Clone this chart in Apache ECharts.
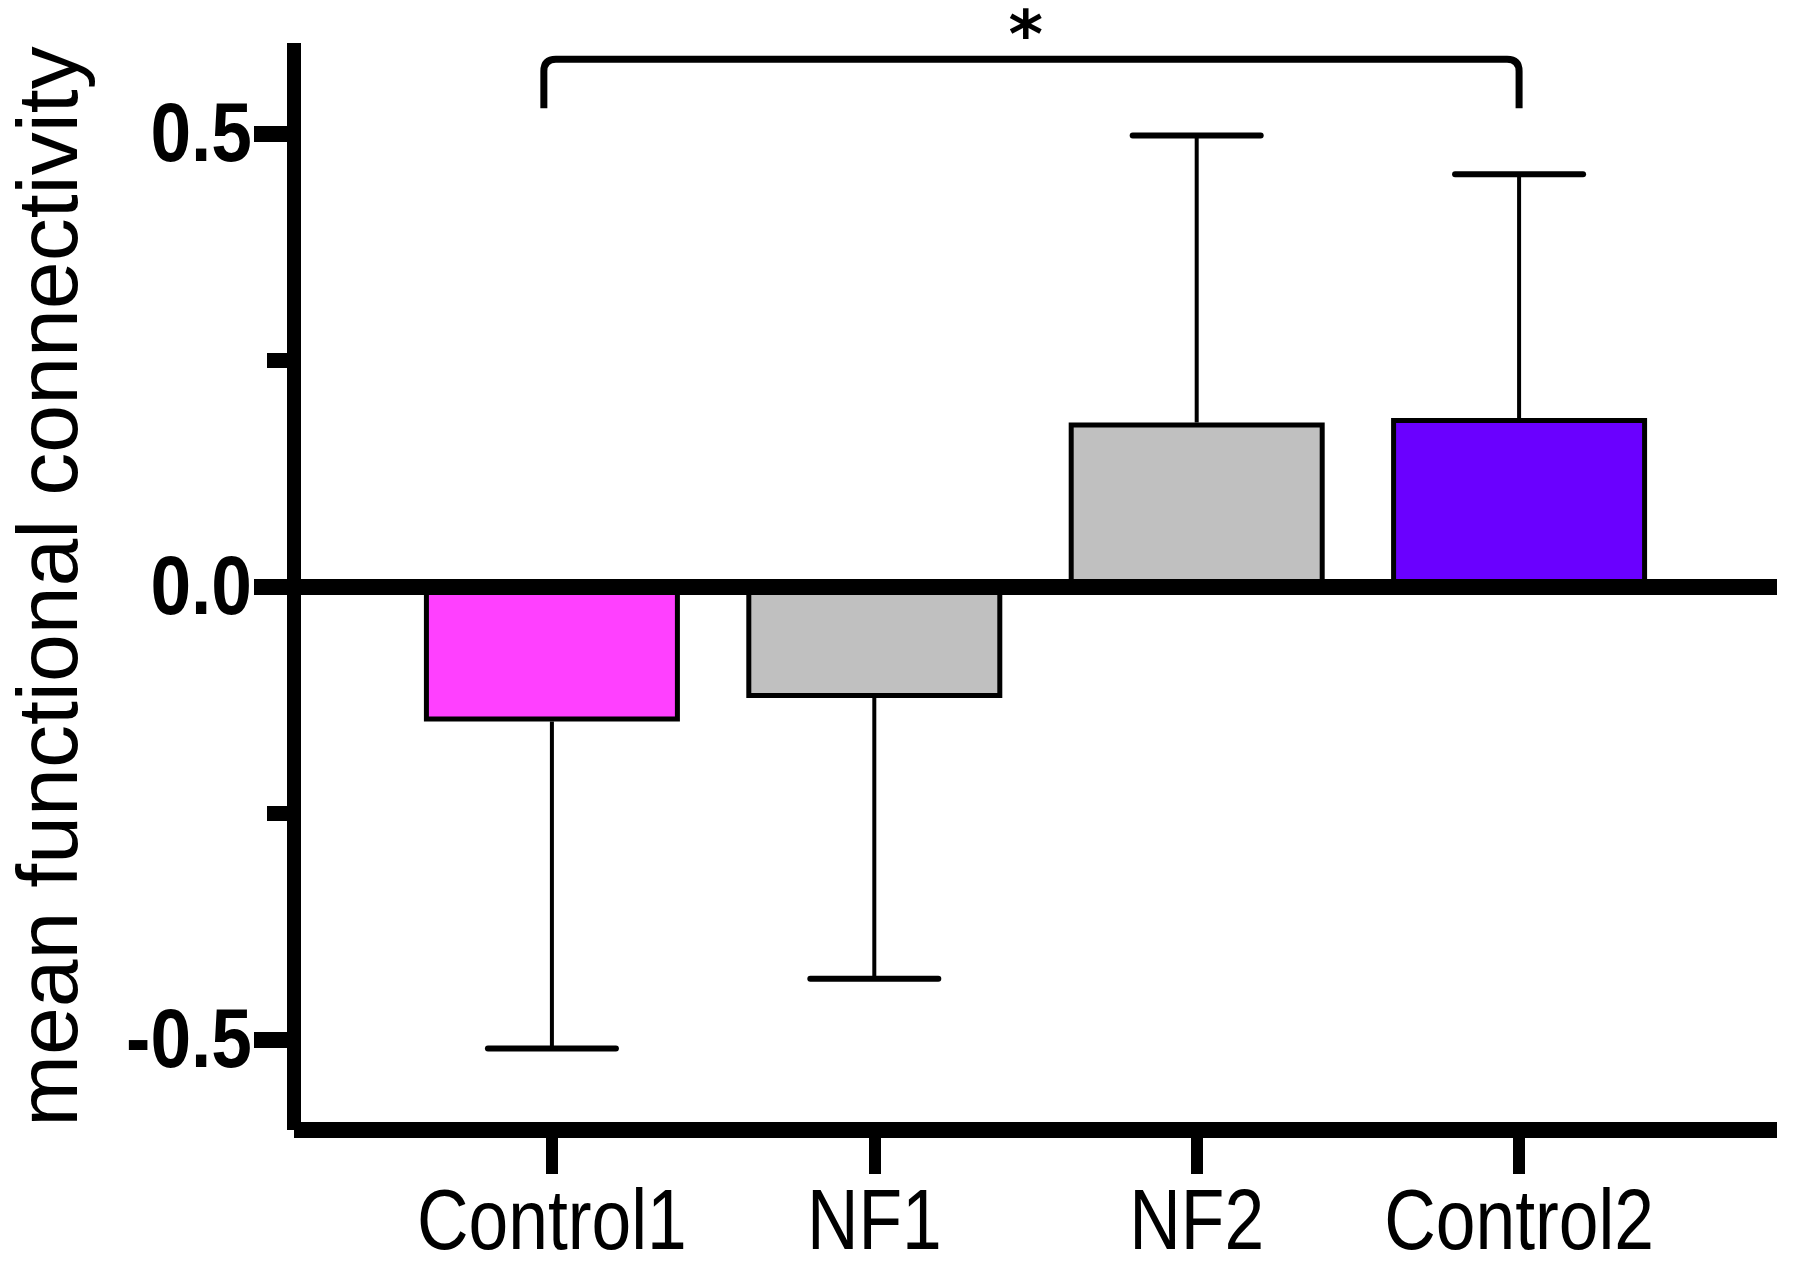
<!DOCTYPE html>
<html>
<head>
<meta charset="utf-8">
<script src="https://cdn.jsdelivr.net/npm/echarts@6/dist/echarts.min.js"></script>
<style>
  html, body { margin: 0; padding: 0; background: #fff; }
  #main { width: 1794px; height: 1266px; }
</style>
</head>
<body>
<div id="main"></div>
<script>
// groups and their positions on the x axis
var groups = ['Control1', 'NF1', 'NF2', 'Control2'];
var positions = [1, 2, 3, 4];
// bar heights (mean) and end of the one-sided error bar
var means = [-0.149, -0.123, 0.181, 0.186];
var errorEnds = [-0.51, -0.433, 0.498, 0.455];
var barColors = ['#ff40ff', '#c0c0c0', '#c0c0c0', '#6a00ff'];
// y ticks
var yMajorTicks = [-0.5, 0, 0.5];
var yMinorTicks = [-0.25, 0.25];
var yTickLabels = ['-0.5', '0.0', '0.5'];
// significance bracket between Control1 and Control2
var bracket = [[0.975, 4.0, 0.582, 0.528]];
var star = [[2.47, 0.603, '*']];

var X_MIN = 0.2, X_MAX = 4.8, Y_MIN = -0.6, Y_MAX = 0.6;
var NARROW = 0.83;  // the figure uses a condensed face, no narrow font here

var chart = echarts.init(document.getElementById('main'));

function barData() {
  return positions.map(function (p, i) {
    return { value: [p, means[i]], itemStyle: { color: barColors[i] } };
  });
}

function errorData() {
  return positions.map(function (p, i) {
    return [p, means[i], errorEnds[i]];
  });
}

function renderError(params, api) {
  var x = api.value(0);
  var p0 = api.coord([x, api.value(1)]);
  var p1 = api.coord([x, api.value(2)]);
  return {
    type: 'group',
    children: [
      { type: 'line', shape: { x1: p0[0], y1: p0[1], x2: p1[0], y2: p1[1] },
        style: { stroke: '#000', lineWidth: 4 } },
      { type: 'line', shape: { x1: p1[0] - 64, y1: p1[1], x2: p1[0] + 64, y2: p1[1] },
        style: { stroke: '#000', lineWidth: 6, lineCap: 'round' } }
    ]
  };
}

function renderBracket(params, api) {
  var a = api.coord([api.value(0), api.value(2)]);
  var b = api.coord([api.value(1), api.value(2)]);
  var legY = api.coord([api.value(0), api.value(3)])[1];
  var r = 12;
  var d = 'M' + a[0] + ',' + legY +
    ' L' + a[0] + ',' + (a[1] + r) +
    ' Q' + a[0] + ',' + a[1] + ' ' + (a[0] + r) + ',' + a[1] +
    ' L' + (b[0] - r) + ',' + b[1] +
    ' Q' + b[0] + ',' + b[1] + ' ' + b[0] + ',' + (b[1] + r) +
    ' L' + b[0] + ',' + legY;
  return {
    type: 'path',
    shape: { pathData: d },
    style: { stroke: '#000', fill: null, lineWidth: 7 }
  };
}

function renderStar(params, api) {
  var p = api.coord([api.value(0), api.value(1)]);
  return {
    type: 'text',
    x: p[0], y: p[1],
    style: {
      text: star[params.dataIndex][2],
      fontSize: 66, fontWeight: 'bold', fontFamily: 'DejaVu Sans',
      fill: '#000', align: 'center', verticalAlign: 'middle'
    }
  };
}

// category names under the bottom axis
function renderXLabel(params, api) {
  var p = api.coord([api.value(0), Y_MIN]);
  return {
    type: 'text',
    x: p[0], y: p[1] + 52,
    scaleX: NARROW,
    style: {
      text: groups[params.dataIndex],
      fontSize: 86, fontFamily: 'Liberation Sans, Arial',
      fill: '#000', align: 'center', verticalAlign: 'top'
    }
  };
}

// tick labels on the y axis
function renderYLabel(params, api) {
  var p = api.coord([X_MIN, api.value(0)]);
  return {
    type: 'text',
    x: p[0] - 42, y: p[1] + 4,
    scaleX: 0.87,
    style: {
      text: yTickLabels[params.dataIndex],
      fontSize: 84, fontWeight: 'bold', fontFamily: 'Liberation Sans, Arial',
      fill: '#000', align: 'right', verticalAlign: 'middle'
    }
  };
}

var option = {
  backgroundColor: '#fff',
  animation: false,
  grid: { left: 294, right: 17, top: 43, bottom: 136, containLabel: false },
  xAxis: {
    type: 'value',
    min: X_MIN,
    max: X_MAX,
    splitLine: { show: false },
    axisLine: { onZero: false, lineStyle: { color: '#000', width: 16, cap: 'butt' } },
    axisTick: { customValues: positions, length: 44, lineStyle: { color: '#000', width: 12 } },
    axisLabel: { show: false }
  },
  yAxis: [{
    type: 'value',
    min: Y_MIN,
    max: Y_MAX,
    splitLine: { show: false },
    axisLine: { onZero: false, lineStyle: { color: '#000', width: 14, cap: 'butt' } },
    axisTick: { customValues: yMajorTicks, length: 40, lineStyle: { color: '#000', width: 16 } },
    axisLabel: { show: false },
    name: 'mean functional connectivity',
    nameLocation: 'middle',
    nameGap: 198,
    nameTextStyle: { color: '#000', fontSize: 86, fontFamily: 'Liberation Sans, Arial' }
  }, {
    type: 'value',
    min: Y_MIN,
    max: Y_MAX,
    position: 'left',
    splitLine: { show: false },
    axisLine: { show: false },
    axisTick: { customValues: yMinorTicks, length: 27, lineStyle: { color: '#000', width: 15 } },
    axisLabel: { show: false }
  }],
  series: [
    {
      type: 'bar',
      barWidth: 256,
      data: barData(),
      itemStyle: { borderColor: '#000', borderWidth: 5 },
      markLine: {
        silent: true,
        symbol: 'none',
        label: { show: false },
        lineStyle: { color: '#000', width: 16, type: 'solid', cap: 'butt' },
        data: [{ yAxis: 0 }]
      }
    },
    {
      type: 'custom',
      renderItem: renderError,
      encode: { x: 0, y: [1, 2] },
      data: errorData(),
      z: 3
    },
    {
      type: 'custom',
      renderItem: renderBracket,
      encode: { x: [0, 1], y: [2, 3] },
      data: bracket,
      clip: false,
      z: 3
    },
    {
      type: 'custom',
      renderItem: renderStar,
      encode: { x: 0, y: 1 },
      data: star,
      clip: false,
      z: 3
    },
    {
      type: 'custom',
      renderItem: renderXLabel,
      encode: { x: 0 },
      data: positions.map(function (p) { return [p]; }),
      clip: false,
      silent: true
    },
    {
      type: 'custom',
      renderItem: renderYLabel,
      encode: { y: 0 },
      data: yMajorTicks.map(function (v) { return [v]; }),
      clip: false,
      silent: true
    }
  ]
};

chart.setOption(option);
</script>
</body>
</html>
